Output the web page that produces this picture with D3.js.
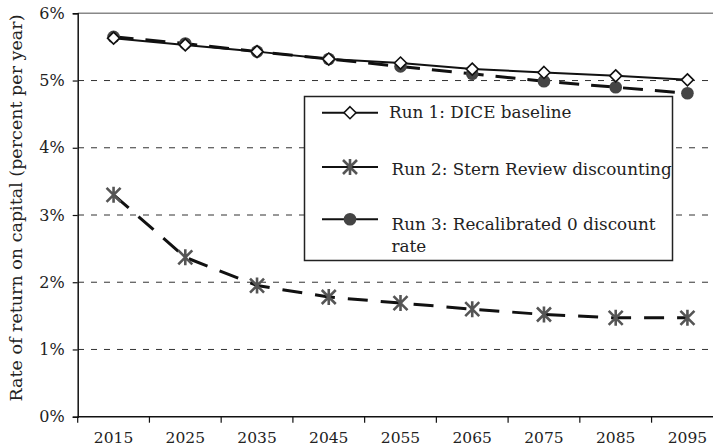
<!DOCTYPE html>
<html><head><meta charset="utf-8">
<script src="https://cdn.jsdelivr.net/npm/d3@7"></script>
<style>
html,body{margin:0;padding:0;background:#fff;}
svg{display:block;font-family:"DejaVu Serif","Liberation Serif",serif;}
</style></head>
<body>
<svg id="chart" width="713" height="448"></svg>
<script>
const years = ["2015","2025","2035","2045","2055","2065","2075","2085","2095"];
const run1 = [5.63,5.53,5.43,5.32,5.26,5.17,5.12,5.07,5.01];
const run2 = [3.30,2.37,1.95,1.78,1.69,1.60,1.52,1.47,1.47];
const run3 = [5.65,5.55,5.43,5.32,5.21,5.10,4.99,4.90,4.81];
const yTicks = [0,1,2,3,4,5,6];
const yTickLabels = ["0%","1%","2%","3%","4%","5%","6%"];
const seriesNames = ["Run 1: DICE baseline","Run 2: Stern Review discounting","Run 3: Recalibrated 0 discount","rate"];

const FONT = "DejaVu Serif, Liberation Serif, serif";
const svg = d3.select("#chart");
const x = d3.scaleBand().domain(years).range([77.7, 723.3]).padding(0);
const y = d3.scaleLinear().domain([0,6]).range([416.7, 13.3]);
const cx = d => x(d) + x.bandwidth()/2;

// gridlines
svg.append("g").selectAll("line").data(yTicks.filter(t => t>0 && t<6)).join("line")
  .attr("x1", 78).attr("x2", 713).attr("y1", d=>y(d)).attr("y2", d=>y(d))
  .attr("stroke", "#333").attr("stroke-width", 1).attr("stroke-dasharray", "6,7");
// top border
svg.append("line").attr("x1",77.7).attr("x2",713).attr("y1",y(6)).attr("y2",y(6))
  .attr("stroke","#888").attr("stroke-width",1.5);

// y axis
const yAxis = d3.axisLeft(y).tickValues(yTicks).tickSize(5).tickFormat((d,i)=>yTickLabels[i]);
const yg = svg.append("g").attr("transform","translate(77.7,0)").call(yAxis);
yg.attr("font-family", FONT);
yg.select(".domain").attr("stroke","#111").attr("stroke-width",1.5);
yg.selectAll(".tick line").attr("stroke","#111").attr("stroke-width",1.2);
yg.selectAll(".tick text").attr("font-size",16).attr("fill","#222").attr("x",-13);

// x axis
const xg = svg.append("g").attr("transform",`translate(0,${y(0)})`);
xg.append("line").attr("x1",77.7).attr("x2",713).attr("stroke","#111").attr("stroke-width",1.5);
const bounds = d3.range(years.length+1).map(i => x.range()[0] + i*x.step());
xg.selectAll(".tk").data(bounds).join("line").attr("class","tk")
  .attr("x1",d=>d).attr("x2",d=>d).attr("y1",0).attr("y2",6)
  .attr("stroke","#111").attr("stroke-width",1.2);
xg.selectAll("text").data(years).join("text")
  .attr("x",d=>cx(d)).attr("y",26).attr("text-anchor","middle")
  .attr("font-size",15.5).attr("fill","#222").text(d=>d);

// y title
svg.append("text").attr("transform","translate(22,208) rotate(-90)")
  .attr("text-anchor","middle").attr("font-size",17.5).attr("fill","#222")
  .text("Rate of return on capital (percent per year)");

// lines
const line = d3.line().x((d,i)=>cx(years[i])).y(d=>y(d));
svg.append("path").datum(run3).attr("d",line).attr("fill","none")
  .attr("stroke","#111").attr("stroke-width",3).attr("stroke-dasharray","20,12");
svg.append("path").datum(run1).attr("d",line).attr("fill","none")
  .attr("stroke","#111").attr("stroke-width",2);
svg.append("path").datum(run2).attr("d",line).attr("fill","none")
  .attr("stroke","#111").attr("stroke-width",3).attr("stroke-dasharray","20,13");

// marker drawers
function diamond(g, px, py){
  g.append("path").attr("d",`M${px},${py-6}L${px+6},${py}L${px},${py+6}L${px-6},${py}Z`)
    .attr("fill","#fff").attr("stroke","#111").attr("stroke-width",1.6);
}
function star(g, px, py){
  const s=7;
  g.append("path").attr("d",`M${px-s},${py-s}L${px+s},${py+s}M${px-s},${py+s}L${px+s},${py-s}M${px},${py-s-1}L${px},${py+s+1}`)
    .attr("stroke","#555").attr("stroke-width",2.6).attr("fill","none");
}
function dot(g, px, py){
  g.append("circle").attr("cx",px).attr("cy",py).attr("r",6.3).attr("fill","#444");
}
const mg = svg.append("g");
run3.forEach((v,i)=>dot(mg, cx(years[i]), y(v)));
run1.forEach((v,i)=>diamond(mg, cx(years[i]), y(v)));
run2.forEach((v,i)=>star(mg, cx(years[i]), y(v)));

// legend
const lg = svg.append("g");
lg.append("rect").attr("x",304.5).attr("y",96.5).attr("width",368).attr("height",164)
  .attr("fill","#fff").attr("stroke","#222").attr("stroke-width",1.5);
const rowsY = [112.7, 167, 219.3];
const drawers = [diamond, star, dot];
rowsY.forEach((ry,i)=>{
  lg.append("line").attr("x1",322).attr("x2",378).attr("y1",ry).attr("y2",ry)
    .attr("stroke","#111").attr("stroke-width",2);
  drawers[i](lg, 350, ry);
});
const LFS = 16.8;
lg.append("text").attr("x",389).attr("y",117.5).attr("font-size",LFS).attr("fill","#222").text(seriesNames[0]);
lg.append("text").attr("x",391.5).attr("y",175).attr("font-size",LFS).attr("fill","#222").text(seriesNames[1]);
lg.append("text").attr("x",391.5).attr("y",229.5).attr("font-size",LFS).attr("fill","#222").text(seriesNames[2]);
lg.append("text").attr("x",391.5).attr("y",252).attr("font-size",LFS).attr("fill","#222").text(seriesNames[3]);
</script>
</body></html>
